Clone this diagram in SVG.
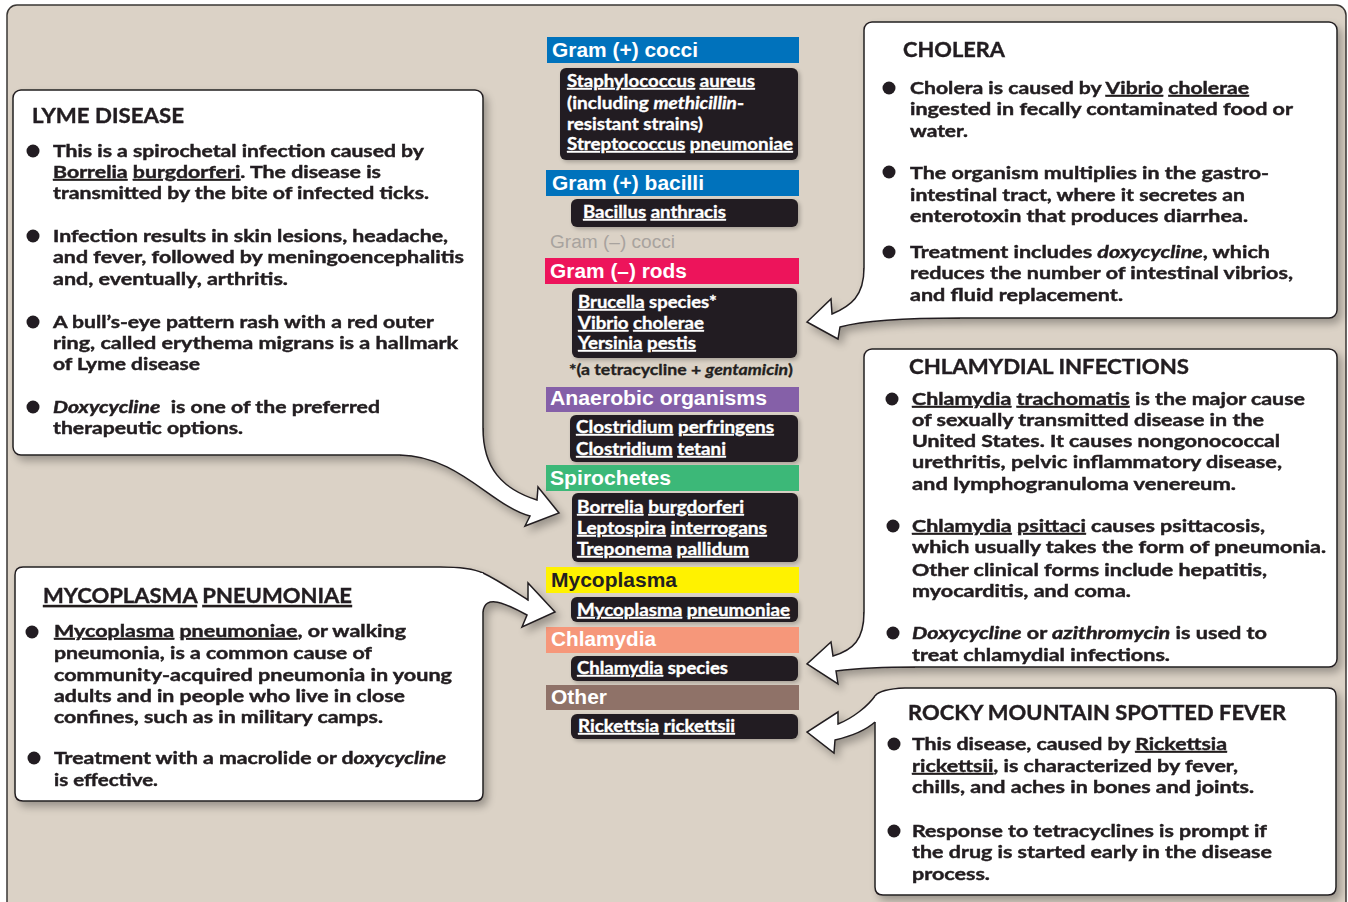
<svg xmlns="http://www.w3.org/2000/svg" width="1348" height="902" viewBox="0 0 1348 902">
<defs>
<style>
.bg{fill:#dbd2c6;stroke:#3a3735;stroke-width:1.5}
.box{fill:#fff;stroke:#231f20;stroke-width:1.5}
.afill{fill:#fff;stroke:none}
.aline{fill:none;stroke:#231f20;stroke-width:1.5;stroke-linejoin:miter}
.db{fill:#231f20}
.hdr{font-family:"Liberation Sans",Arial,sans-serif;font-weight:700;font-size:19.5px;fill:#fff}
.org{font-family:Lato,"Open Sans",sans-serif;font-weight:700;font-size:16.5px;fill:#fff;stroke:#fff;stroke-width:0.35px}
.txt{font-family:Lato,"Open Sans",sans-serif;font-weight:700;font-size:17.4px;fill:#231f20;stroke:#231f20;stroke-width:0.45px}
.ttl{font-family:Lato,"Open Sans",sans-serif;font-weight:700;font-size:21px;fill:#231f20;stroke:#231f20;stroke-width:0.4px}
.u{text-decoration:underline}
.i{font-style:italic}
.dot{fill:#231f20}
</style>
<filter id="sh" x="-10%" y="-10%" width="125%" height="125%">
<feGaussianBlur in="SourceAlpha" stdDeviation="4"/>
<feOffset dx="4" dy="5" result="o"/>
<feComponentTransfer><feFuncA type="linear" slope="0.3"/></feComponentTransfer>
<feMerge><feMergeNode/><feMergeNode in="SourceGraphic"/></feMerge>
</filter>
<filter id="sh2" x="-10%" y="-20%" width="125%" height="150%">
<feGaussianBlur in="SourceAlpha" stdDeviation="2"/>
<feOffset dx="2" dy="2"/>
<feComponentTransfer><feFuncA type="linear" slope="0.25"/></feComponentTransfer>
<feMerge><feMergeNode/><feMergeNode in="SourceGraphic"/></feMerge>
</filter>
</defs>

<rect id="background" class="bg" x="7" y="5" width="1339" height="925" rx="10"/>

<g id="middle-column">
<g id="gram-pos-cocci">
<rect x="547" y="37" width="252" height="26" fill="#0072bc"/>
<text class="hdr" x="552" y="57" textLength="146" lengthAdjust="spacingAndGlyphs">Gram (+) cocci</text>
<rect class="db" x="560" y="68" width="238" height="92" rx="6" filter="url(#sh2)"/>
<text class="org" x="567" y="87" textLength="188" lengthAdjust="spacingAndGlyphs"><tspan class="u">Staphylococcus</tspan> <tspan class="u">aureus</tspan></text>
<text class="org" x="567" y="109" textLength="177" lengthAdjust="spacingAndGlyphs">(including <tspan class="i">methicillin</tspan>-</text>
<text class="org" x="567" y="130" textLength="136" lengthAdjust="spacingAndGlyphs">resistant strains)</text>
<text class="org" x="567" y="150" textLength="226" lengthAdjust="spacingAndGlyphs"><tspan class="u">Streptococcus</tspan> <tspan class="u">pneumoniae</tspan></text>
</g>
<g id="gram-pos-bacilli">
<rect x="546" y="170" width="253" height="26" fill="#0072bc"/>
<text class="hdr" x="552" y="190" textLength="152" lengthAdjust="spacingAndGlyphs">Gram (+) bacilli</text>
<rect class="db" x="571" y="199" width="227" height="28" rx="6" filter="url(#sh2)"/>
<text class="org" x="583" y="218" textLength="143" lengthAdjust="spacingAndGlyphs"><tspan class="u">Bacillus</tspan> <tspan class="u">anthracis</tspan></text>
</g>
<g id="gram-neg-cocci">
<text x="550" y="248" textLength="125" lengthAdjust="spacingAndGlyphs" style="font-family:'Liberation Sans',Arial,sans-serif;font-size:18px;fill:#a8a39e">Gram (–) cocci</text>
</g>
<g id="gram-neg-rods">
<rect x="545" y="258" width="254" height="26" fill="#ed145b"/>
<text class="hdr" x="550" y="278" textLength="137" lengthAdjust="spacingAndGlyphs">Gram (–) rods</text>
<rect class="db" x="572" y="288" width="225" height="70" rx="6" filter="url(#sh2)"/>
<text class="org" x="578" y="308" textLength="139" lengthAdjust="spacingAndGlyphs"><tspan class="u">Brucella</tspan> species*</text>
<text class="org" x="578" y="329" textLength="126" lengthAdjust="spacingAndGlyphs"><tspan class="u">Vibrio</tspan> <tspan class="u">cholerae</tspan></text>
<text class="org" x="578" y="349" textLength="118" lengthAdjust="spacingAndGlyphs"><tspan class="u">Yersinia</tspan> <tspan class="u">pestis</tspan></text>
<text class="org" x="569" y="375" textLength="224" lengthAdjust="spacingAndGlyphs" style="fill:#231f20;stroke:#231f20;font-size:16px">*(a tetracycline + <tspan class="i">gentamicin</tspan>)</text>
</g>
<g id="anaerobic">
<rect x="546" y="387" width="253" height="25" fill="#8560a8"/>
<text class="hdr" x="550" y="405" textLength="217" lengthAdjust="spacingAndGlyphs">Anaerobic organisms</text>
<rect class="db" x="570" y="415" width="228" height="47" rx="6" filter="url(#sh2)"/>
<text class="org" x="576" y="433" textLength="198" lengthAdjust="spacingAndGlyphs"><tspan class="u">Clostridium</tspan> <tspan class="u">perfringens</tspan></text>
<text class="org" x="576" y="455" textLength="150" lengthAdjust="spacingAndGlyphs"><tspan class="u">Clostridium</tspan> <tspan class="u">tetani</tspan></text>
</g>
<g id="spirochetes">
<rect x="546" y="465" width="253" height="26" fill="#3cb878"/>
<text class="hdr" x="550" y="485" textLength="121" lengthAdjust="spacingAndGlyphs">Spirochetes</text>
<rect class="db" x="572" y="493" width="226" height="69" rx="6" filter="url(#sh2)"/>
<text class="org" x="577" y="513" textLength="167" lengthAdjust="spacingAndGlyphs"><tspan class="u">Borrelia</tspan> <tspan class="u">burgdorferi</tspan></text>
<text class="org" x="577" y="534" textLength="190" lengthAdjust="spacingAndGlyphs"><tspan class="u">Leptospira</tspan> <tspan class="u">interrogans</tspan></text>
<text class="org" x="577" y="555" textLength="172" lengthAdjust="spacingAndGlyphs"><tspan class="u">Treponema</tspan> <tspan class="u">pallidum</tspan></text>
</g>
<g id="mycoplasma">
<rect x="546" y="567" width="253" height="26" fill="#fff200"/>
<text class="hdr" x="551" y="587" textLength="126" lengthAdjust="spacingAndGlyphs" style="fill:#231f20">Mycoplasma</text>
<rect class="db" x="571" y="597" width="227" height="25" rx="6" filter="url(#sh2)"/>
<text class="org" x="577" y="616" textLength="213" lengthAdjust="spacingAndGlyphs"><tspan class="u">Mycoplasma</tspan> <tspan class="u">pneumoniae</tspan></text>
</g>
<g id="chlamydia">
<rect x="546" y="627" width="253" height="26" fill="#f6977a"/>
<text class="hdr" x="551" y="646" textLength="105" lengthAdjust="spacingAndGlyphs">Chlamydia</text>
<rect class="db" x="571" y="656" width="227" height="25" rx="6" filter="url(#sh2)"/>
<text class="org" x="577" y="674" textLength="151" lengthAdjust="spacingAndGlyphs"><tspan class="u">Chlamydia</tspan> species</text>
</g>
<g id="other">
<rect x="546" y="685" width="253" height="25" fill="#8f7268"/>
<text class="hdr" x="551" y="704" textLength="56" lengthAdjust="spacingAndGlyphs">Other</text>
<rect class="db" x="571" y="714" width="227" height="25" rx="6" filter="url(#sh2)"/>
<text class="org" x="578" y="732" textLength="157" lengthAdjust="spacingAndGlyphs"><tspan class="u">Rickettsia</tspan> <tspan class="u">rickettsii</tspan></text>
</g>
</g>

<g filter="url(#sh)">
<g id="lyme-disease">
<rect class="box" x="13" y="90" width="470" height="365" rx="8"/>
<text class="ttl" x="32" y="123" textLength="152" lengthAdjust="spacingAndGlyphs">LYME DISEASE</text>
<circle class="dot" cx="33" cy="151" r="6.5"/>
<text class="txt" x="53" y="157" textLength="371" lengthAdjust="spacingAndGlyphs">This is a spirochetal infection caused by</text>
<text class="txt" x="53" y="178" textLength="328" lengthAdjust="spacingAndGlyphs"><tspan class="u">Borrelia</tspan> <tspan class="u">burgdorferi</tspan>. The disease is</text>
<text class="txt" x="53" y="199" textLength="376" lengthAdjust="spacingAndGlyphs">transmitted by the bite of infected ticks.</text>
<circle class="dot" cx="33" cy="236" r="6.5"/>
<text class="txt" x="53" y="242" textLength="395" lengthAdjust="spacingAndGlyphs">Infection results in skin lesions, headache,</text>
<text class="txt" x="53" y="263" textLength="411" lengthAdjust="spacingAndGlyphs">and fever, followed by meningoencephalitis</text>
<text class="txt" x="53" y="285" textLength="235" lengthAdjust="spacingAndGlyphs">and, eventually, arthritis.</text>
<circle class="dot" cx="33" cy="322" r="6.5"/>
<text class="txt" x="53" y="328" textLength="381" lengthAdjust="spacingAndGlyphs">A bull’s-eye pattern rash with a red outer</text>
<text class="txt" x="53" y="349" textLength="405" lengthAdjust="spacingAndGlyphs">ring, called erythema migrans is a hallmark</text>
<text class="txt" x="53" y="370" textLength="147" lengthAdjust="spacingAndGlyphs">of Lyme disease</text>
<circle class="dot" cx="33" cy="407" r="6.5"/>
<text class="txt" x="53" y="413" textLength="327" lengthAdjust="spacingAndGlyphs" style="white-space:pre"><tspan class="i">Doxycycline</tspan>  is one of the preferred</text>
<text class="txt" x="53" y="434" textLength="190" lengthAdjust="spacingAndGlyphs">therapeutic options.</text>
</g>

<g id="mycoplasma-pneumoniae">
<path class="box" d="M23,567 H440 Q470,567 483,573 V793 Q483,801 475,801 H23 Q15,801 15,793 V575 Q15,567 23,567 Z"/>
<text class="ttl" x="43" y="603" textLength="309" lengthAdjust="spacingAndGlyphs"><tspan class="u">MYCOPLASMA</tspan> <tspan class="u">PNEUMONIAE</tspan></text>
<circle class="dot" cx="32" cy="632" r="6.5"/>
<text class="txt" x="54" y="637" textLength="352" lengthAdjust="spacingAndGlyphs"><tspan class="u">Mycoplasma</tspan> <tspan class="u">pneumoniae</tspan>, or walking</text>
<text class="txt" x="54" y="659" textLength="318" lengthAdjust="spacingAndGlyphs">pneumonia, is a common cause of</text>
<text class="txt" x="54" y="681" textLength="398" lengthAdjust="spacingAndGlyphs">community-acquired pneumonia in young</text>
<text class="txt" x="54" y="702" textLength="351" lengthAdjust="spacingAndGlyphs">adults and in people who live in close</text>
<text class="txt" x="54" y="723" textLength="329" lengthAdjust="spacingAndGlyphs">confines, such as in military camps.</text>
<circle class="dot" cx="34" cy="758" r="6.5"/>
<text class="txt" x="54" y="764" textLength="392" lengthAdjust="spacingAndGlyphs">Treatment with a macrolide or d<tspan class="i">oxycycline</tspan></text>
<text class="txt" x="54" y="786" textLength="104" lengthAdjust="spacingAndGlyphs">is effective.</text>
</g>

<g id="cholera">
<rect class="box" x="864" y="22" width="473" height="296" rx="8"/>
<text class="ttl" x="903" y="57" textLength="102" lengthAdjust="spacingAndGlyphs">CHOLERA</text>
<circle class="dot" cx="889" cy="88" r="6.5"/>
<text class="txt" x="910" y="94" textLength="339" lengthAdjust="spacingAndGlyphs">Cholera is caused by <tspan class="u">Vibrio</tspan> <tspan class="u">cholerae</tspan></text>
<text class="txt" x="910" y="115" textLength="383" lengthAdjust="spacingAndGlyphs">ingested in fecally contaminated food or</text>
<text class="txt" x="910" y="137" textLength="58" lengthAdjust="spacingAndGlyphs">water.</text>
<circle class="dot" cx="889" cy="172" r="6.5"/>
<text class="txt" x="910" y="179" textLength="359" lengthAdjust="spacingAndGlyphs">The organism multiplies in the gastro-</text>
<text class="txt" x="910" y="201" textLength="335" lengthAdjust="spacingAndGlyphs">intestinal tract, where it secretes an</text>
<text class="txt" x="910" y="222" textLength="338" lengthAdjust="spacingAndGlyphs">enterotoxin that produces diarrhea.</text>
<circle class="dot" cx="889" cy="252" r="6.5"/>
<text class="txt" x="910" y="258" textLength="360" lengthAdjust="spacingAndGlyphs">Treatment includes <tspan class="i">doxycycline</tspan>, which</text>
<text class="txt" x="910" y="279" textLength="383" lengthAdjust="spacingAndGlyphs">reduces the number of intestinal vibrios,</text>
<text class="txt" x="910" y="301" textLength="213" lengthAdjust="spacingAndGlyphs">and fluid replacement.</text>
</g>

<g id="chlamydial-infections">
<rect class="box" x="864" y="349" width="473" height="318" rx="8"/>
<text class="ttl" x="909" y="374" textLength="280" lengthAdjust="spacingAndGlyphs">CHLAMYDIAL INFECTIONS</text>
<circle class="dot" cx="892" cy="399" r="6.5"/>
<text class="txt" x="912" y="405" textLength="393" lengthAdjust="spacingAndGlyphs"><tspan class="u">Chlamydia</tspan> <tspan class="u">trachomatis</tspan> is the major cause</text>
<text class="txt" x="912" y="426" textLength="352" lengthAdjust="spacingAndGlyphs">of sexually transmitted disease in the</text>
<text class="txt" x="912" y="447" textLength="368" lengthAdjust="spacingAndGlyphs">United States. It causes nongonococcal</text>
<text class="txt" x="912" y="468" textLength="370" lengthAdjust="spacingAndGlyphs">urethritis, pelvic inflammatory disease,</text>
<text class="txt" x="912" y="490" textLength="324" lengthAdjust="spacingAndGlyphs">and lymphogranuloma venereum.</text>
<circle class="dot" cx="893" cy="526" r="6.5"/>
<text class="txt" x="912" y="532" textLength="353" lengthAdjust="spacingAndGlyphs"><tspan class="u">Chlamydia</tspan> <tspan class="u">psittaci</tspan> causes psittacosis,</text>
<text class="txt" x="912" y="553" textLength="414" lengthAdjust="spacingAndGlyphs">which usually takes the form of pneumonia.</text>
<text class="txt" x="912" y="576" textLength="355" lengthAdjust="spacingAndGlyphs">Other clinical forms include hepatitis,</text>
<text class="txt" x="912" y="597" textLength="219" lengthAdjust="spacingAndGlyphs">myocarditis, and coma.</text>
<circle class="dot" cx="893" cy="633" r="6.5"/>
<text class="txt" x="912" y="639" textLength="355" lengthAdjust="spacingAndGlyphs"><tspan class="i">Doxycycline</tspan> or <tspan class="i">azithromycin</tspan> is used to</text>
<text class="txt" x="912" y="661" textLength="258" lengthAdjust="spacingAndGlyphs">treat chlamydial infections.</text>
</g>

<g id="rocky-mountain-spotted-fever">
<path class="box" d="M905,688 H1328 Q1336,688 1336,696 V887 Q1336,895 1328,895 H883 Q875,895 875,887 V696 Q880,689 905,688 Z"/>
<text class="ttl" x="908" y="720" textLength="378" lengthAdjust="spacingAndGlyphs">ROCKY MOUNTAIN SPOTTED FEVER</text>
<circle class="dot" cx="894" cy="744" r="6.5"/>
<text class="txt" x="912" y="750" textLength="315" lengthAdjust="spacingAndGlyphs">This disease, caused by <tspan class="u">Rickettsia</tspan></text>
<text class="txt" x="912" y="772" textLength="326" lengthAdjust="spacingAndGlyphs"><tspan class="u">rickettsii</tspan>, is characterized by fever,</text>
<text class="txt" x="912" y="793" textLength="342" lengthAdjust="spacingAndGlyphs">chills, and aches in bones and joints.</text>
<circle class="dot" cx="894" cy="831" r="6.5"/>
<text class="txt" x="912" y="837" textLength="355" lengthAdjust="spacingAndGlyphs">Response to tetracyclines is prompt if</text>
<text class="txt" x="912" y="858" textLength="360" lengthAdjust="spacingAndGlyphs">the drug is started early in the disease</text>
<text class="txt" x="912" y="880" textLength="78" lengthAdjust="spacingAndGlyphs">process.</text>
</g>

<g id="connectors">
<g id="arrow-lyme">
<path class="afill" d="M483,428 C483,468 502,489 537,500 L538,487 L559,513 L525,526 L530,516 C492,506 458,456 400,455 L400,451 L479,451 L479,428 Z"/>
<path class="aline" d="M483,428 C483,468 502,489 537,500 L538,487 L559,513 L525,526 L530,516 C492,506 458,456 400,455"/>
</g>
<g id="arrow-mycoplasma">
<path class="afill" d="M483,573 C498,580 512,590 528,600 L528,583 L555,612 L522,627 L527,615 C505,603 485,594 483,612 L479,612 L479,573 Z"/>
<path class="aline" d="M483,573 C498,580 512,590 528,600 L528,583 L555,612 L522,627 L527,615 C505,603 485,594 483,612"/>
</g>
<g id="arrow-cholera">
<path class="afill" d="M864,268 C864,296 851,306 832,314 L831,299 L807,322 L838,339 L840,327 C862,321 905,318 960,318 L960,314 L868,314 L868,268 Z"/>
<path class="aline" d="M864,268 C864,296 851,306 832,314 L831,299 L807,322 L838,339 L840,327 C862,321 905,318 960,318"/>
</g>
<g id="arrow-chlamydial">
<path class="afill" d="M864,612 C864,640 853,650 833,656 L831,642 L807,664 L838,684 L836,671 C860,668 882,667 915,667 L915,663 L868,663 L868,612 Z"/>
<path class="aline" d="M864,612 C864,640 853,650 833,656 L831,642 L807,664 L838,684 L836,671 C860,668 882,667 915,667"/>
</g>
<g id="arrow-rmsf">
<path class="afill" d="M875,696 C868,706 853,718 838,724 L838,712 L807,732 L834,753 L835,740 C852,736 866,730 875,722 L879,722 L879,696 Z"/>
<path class="aline" d="M875,696 C868,706 853,718 838,724 L838,712 L807,732 L834,753 L835,740 C852,736 866,730 875,722"/>
</g>
</g>
</g>
</svg>
